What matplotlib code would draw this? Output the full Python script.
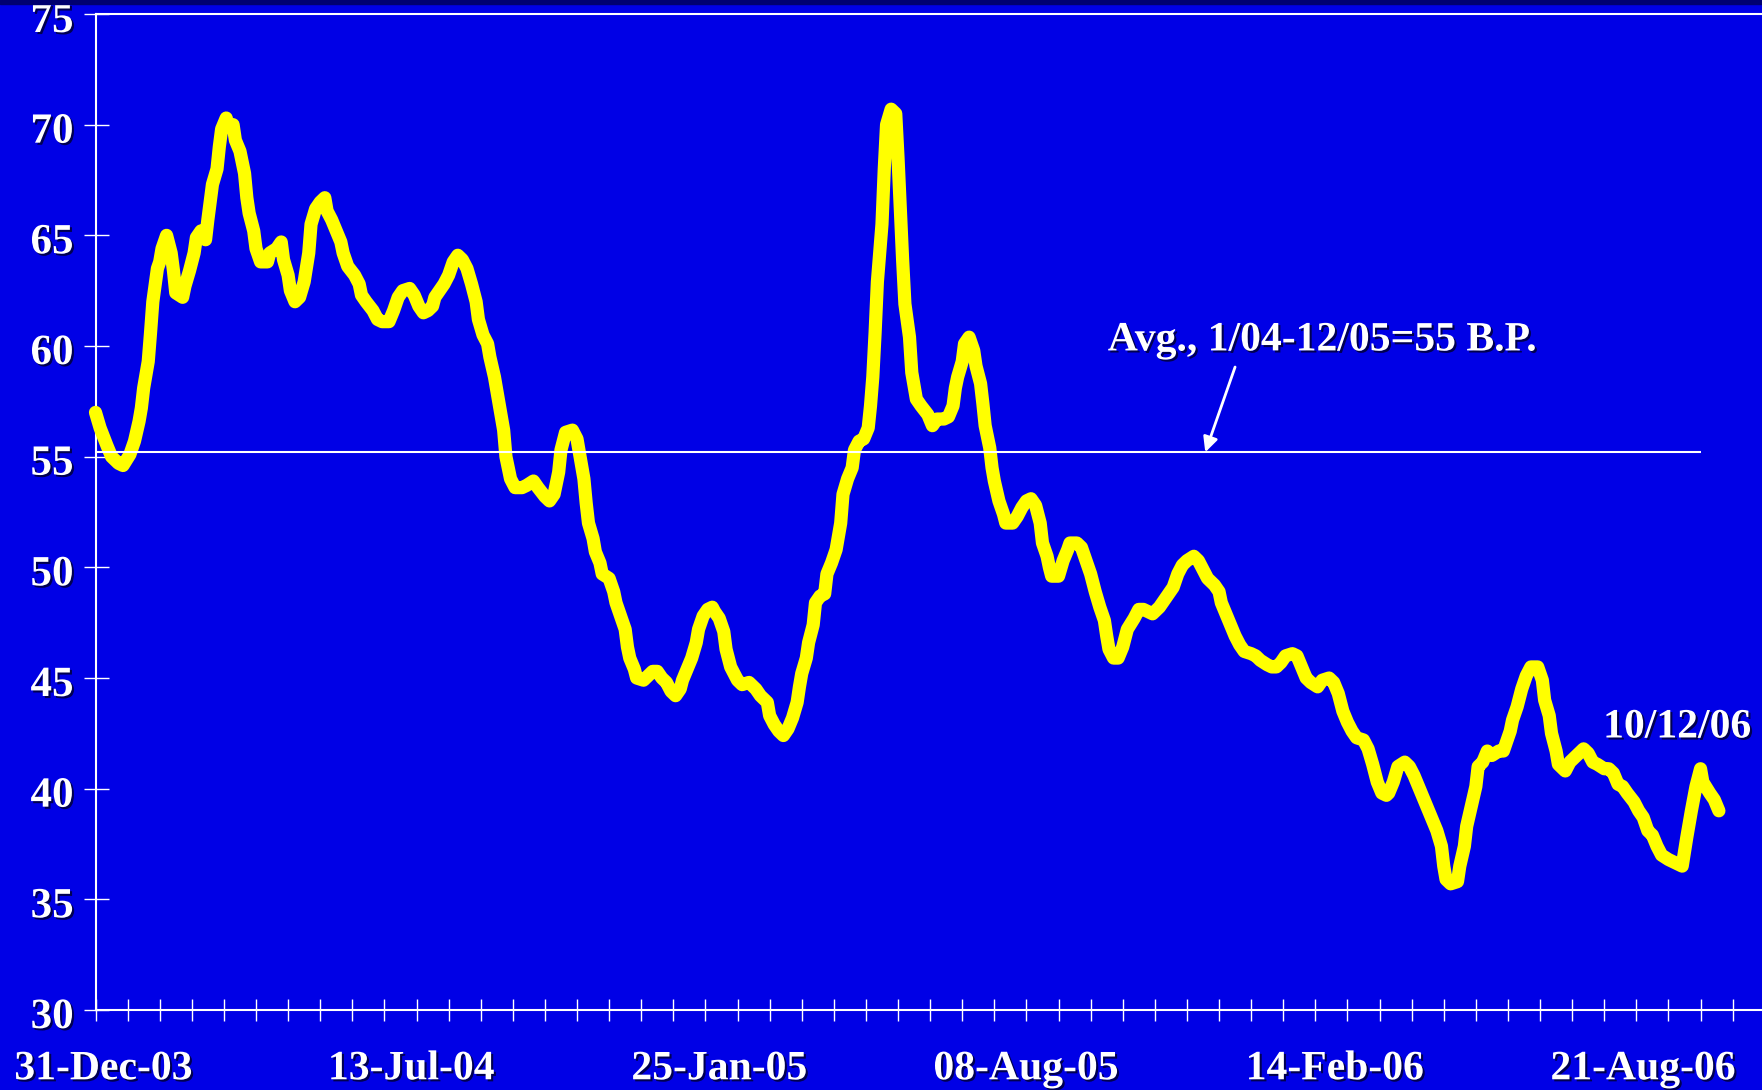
import numpy as np
import matplotlib
matplotlib.use("Agg")
import matplotlib.pyplot as plt
import matplotlib.patheffects as pe
from matplotlib.transforms import ScaledTranslation
from matplotlib.patches import Rectangle

# spread series, x = trading-day row since 31-Dec-03, y = basis points
rows = [0, 2, 5, 7, 10, 12, 15, 17, 19, 20, 21, 23, 24, 25, 27, 28, 29, 31, 33, 34,
        35, 38, 39, 41, 43, 44, 46, 48, 49, 50, 51, 53, 54, 55, 57, 58, 60, 61, 63, 65,
        66, 67, 69, 70, 72, 75, 76, 79, 81, 82, 84, 85, 87, 89, 91, 93, 94, 96, 98, 100,
        101, 103, 105, 107, 108, 110, 113, 115, 116, 118, 121, 123, 125, 128, 130, 132, 134, 137, 139, 141,
        143, 145, 147, 148, 150, 152, 154, 156, 158, 160, 162, 164, 166, 167, 169, 171, 172, 174, 176, 178,
        179, 181, 183, 186, 188, 191, 193, 196, 198, 200, 202, 203, 205, 208, 210, 211, 213, 214, 215, 217,
        218, 220, 221, 224, 226, 227, 229, 231, 232, 233, 235, 236, 239, 241, 243, 245, 247, 249, 251, 253,
        255, 256, 258, 260, 262, 263, 265, 267, 269, 270, 272, 274, 275, 277, 279, 280, 282, 285, 288, 290,
        293, 294, 296, 298, 300, 302, 304, 306, 307, 308, 310, 311, 313, 314, 316, 318, 319, 321, 323, 325,
        326, 328, 330, 331, 333, 335, 337, 338, 339, 340, 341, 343, 344, 345, 347, 349, 350, 351, 352, 353,
        355, 356, 358, 360, 363, 365, 367, 370, 372, 374, 375, 376, 378, 379, 381, 383, 384, 386, 387, 388,
        390, 391, 392, 394, 396, 397, 400, 402, 404, 406, 408, 410, 412, 413, 415, 416, 417, 420, 422, 424,
        425, 428, 430, 432, 434, 436, 438, 440, 441, 442, 444, 446, 448, 450, 453, 455, 457, 459, 461, 464,
        466, 468, 470, 472, 474, 476, 479, 481, 483, 485, 488, 490, 491, 493, 495, 497, 499, 501, 504, 506,
        508, 511, 513, 515, 517, 519, 522, 524, 526, 528, 530, 533, 535, 538, 540, 542, 544, 546, 548, 550,
        553, 555, 557, 559, 561, 563, 564, 566, 568, 571, 573, 575, 577, 579, 581, 583, 585, 587, 588, 589,
        591, 594, 595, 597, 598, 600, 602, 603, 605, 607, 609, 612, 614, 617, 618, 620, 622, 624, 626, 629,
        631, 632, 634, 635, 637, 638, 641, 643, 645, 647, 649, 651, 653, 655, 658, 660, 662, 664, 666, 668,
        671, 673, 675, 677, 679, 681, 683, 686, 688, 690, 692, 694, 696, 698, 700, 701, 704, 706, 708]
spread = [57.0, 56.3, 55.5, 55.0, 54.7, 54.6, 55.1, 55.7, 56.6, 57.2, 58.1, 59.3, 60.6, 62.0, 63.5, 63.8, 64.4, 65.0, 64.2, 63.4,
          62.4, 62.2, 62.7, 63.4, 64.2, 64.9, 65.2, 64.8, 65.7, 66.5, 67.3, 68.0, 69.0, 69.8, 70.3, 69.9, 70.0, 69.3, 68.8, 67.8,
          66.7, 66.0, 65.2, 64.4, 63.8, 63.8, 64.2, 64.4, 64.7, 63.9, 63.2, 62.5, 62.0, 62.2, 62.9, 64.2, 65.5, 66.2, 66.5, 66.7,
          66.1, 65.7, 65.2, 64.7, 64.2, 63.6, 63.2, 62.8, 62.3, 62.0, 61.6, 61.2, 61.1, 61.1, 61.6, 62.2, 62.5, 62.6, 62.3, 61.8,
          61.5, 61.6, 61.8, 62.2, 62.5, 62.8, 63.2, 63.8, 64.1, 63.9, 63.5, 62.8, 62.0, 61.2, 60.5, 60.1, 59.5, 58.6, 57.4, 56.2,
          55.0, 54.0, 53.6, 53.6, 53.7, 53.9, 53.6, 53.2, 53.0, 53.3, 54.3, 55.3, 56.1, 56.2, 55.8, 55.2, 54.0, 52.9, 52.0, 51.3,
          50.7, 50.2, 49.7, 49.5, 48.9, 48.4, 47.8, 47.2, 46.4, 45.9, 45.4, 45.0, 44.9, 45.1, 45.3, 45.3, 45.0, 44.8, 44.4, 44.2,
          44.5, 44.9, 45.4, 45.9, 46.6, 47.2, 47.8, 48.1, 48.2, 48.0, 47.7, 47.1, 46.3, 45.5, 45.1, 44.9, 44.7, 44.8, 44.5, 44.2,
          43.9, 43.3, 42.9, 42.6, 42.4, 42.7, 43.2, 43.9, 44.6, 45.2, 45.9, 46.6, 47.4, 48.4, 48.7, 48.8, 49.7, 50.2, 50.8, 52.0,
          53.3, 54.0, 54.5, 55.3, 55.7, 55.8, 56.3, 57.3, 58.6, 60.6, 62.9, 65.5, 68.0, 70.0, 70.7, 70.5, 68.5, 66.2, 63.9, 61.9,
          60.4, 58.8, 57.6, 57.3, 56.9, 56.4, 56.7, 56.7, 56.8, 57.3, 58.1, 58.6, 59.3, 60.1, 60.4, 59.8, 59.1, 58.3, 57.4, 56.4,
          55.4, 54.5, 53.9, 53.0, 52.4, 52.0, 52.0, 52.3, 52.7, 53.0, 53.1, 52.8, 52.0, 51.1, 50.5, 50.0, 49.6, 49.6, 50.3, 50.8,
          51.1, 51.1, 50.9, 50.3, 49.7, 48.9, 48.2, 47.6, 46.9, 46.3, 45.9, 45.9, 46.4, 47.2, 47.7, 48.1, 48.1, 48.0, 47.9, 48.2,
          48.5, 48.8, 49.1, 49.7, 50.1, 50.3, 50.5, 50.3, 49.9, 49.5, 49.2, 48.9, 48.4, 47.9, 47.4, 46.9, 46.5, 46.2, 46.1, 46.0,
          45.8, 45.6, 45.5, 45.5, 45.7, 46.0, 46.1, 46.0, 45.5, 45.0, 44.8, 44.6, 44.9, 45.0, 44.8, 44.3, 43.5, 43.0, 42.6, 42.3,
          42.2, 41.8, 41.1, 40.3, 39.8, 39.7, 39.8, 40.3, 41.0, 41.2, 41.0, 40.6, 40.1, 39.6, 39.1, 38.6, 38.1, 37.4, 36.5, 35.9,
          35.7, 35.8, 36.5, 37.4, 38.3, 39.2, 40.1, 41.0, 41.2, 41.7, 41.5, 41.7, 41.7, 42.6, 43.1, 43.7, 44.5, 45.1, 45.5, 45.5,
          44.9, 44.0, 43.3, 42.5, 41.7, 41.1, 40.8, 41.2, 41.4, 41.6, 41.8, 41.6, 41.2, 41.1, 40.9, 40.9, 40.7, 40.2, 40.1, 39.8,
          39.4, 39.0, 38.7, 38.1, 37.9, 37.4, 37.0, 36.8, 36.7, 36.6, 36.5, 37.8, 39.0, 40.1, 40.9, 40.3, 39.8, 39.5, 39.0]

date_labels = ["31-Dec-03", "13-Jul-04", "25-Jan-05", "08-Aug-05", "14-Feb-06", "21-Aug-06"]
label_rows = [3.4, 137.7, 272.0, 405.8, 540.5, 674.9]
tick_every = 14

avg_value = 55.2
avg_span = (0, 700)
last_date = "10/12/06"

BG = "#0000e6"
FONT = "Liberation Serif"
shadow = [pe.withSimplePatchShadow(offset=(1.5, -1.5), shadow_rgbFace="#000040", alpha=0.9)]

fig = plt.figure(figsize=(17.62, 10.90), dpi=100)
fig.patch.set_facecolor(BG)
fig.patches.append(Rectangle((0, 1 - 4 / 1090), 1, 4 / 1090, transform=fig.transFigure,
                             color="#000070", zorder=0))

W, H = 1762, 1090
ax = fig.add_axes([95.5 / W, 1 - 1010 / H, 1 - 95.5 / W, (1010 - 14) / H])
ax.set_facecolor(BG)
ax.set_xlim(0, 726.8)
ax.set_ylim(30, 75)

for side in ["left", "bottom", "top"]:
    ax.spines[side].set_color("white")
    ax.spines[side].set_linewidth(1.5)
ax.spines["right"].set_visible(False)

# y axis: ticks crossing the spine, labels placed by hand so they sit a bit low
yticks = np.arange(30, 76, 5)
ax.set_yticks(yticks)
ax.tick_params(axis="y", direction="inout", length=18, width=1, color="white", labelleft=False)
ylab_tr = ax.get_yaxis_transform() + ScaledTranslation(-0.22, -0.08, fig.dpi_scale_trans)
for v in yticks:
    ax.text(0, v, "%d" % v, transform=ylab_tr, ha="right", va="center", color="white",
            fontsize=31, fontweight="bold", family=FONT, path_effects=shadow)

# x axis: small tick marks every few rows, date labels on invisible major ticks
ax.set_xticks(np.arange(0, 726.8, tick_every), minor=True)
ax.set_xticks(label_rows, date_labels)
ax.tick_params(axis="x", which="minor", direction="inout", length=16, width=1, color="white")
ax.tick_params(axis="x", which="major", length=0, pad=29, labelcolor="white", labelsize=30)
for lab in ax.get_xticklabels():
    lab.set_fontweight("bold")
    lab.set_family(FONT)
    lab.set_path_effects(shadow)

ax.plot(rows, spread, color="#ffff00", lw=9.5, solid_joinstyle="round",
        solid_capstyle="round", clip_on=False, zorder=3)

ax.hlines(avg_value, avg_span[0], avg_span[1], color="white", lw=1.5, zorder=4)
ax.text(535, 59.8, "Avg., 1/04-12/05=%d B.P." % round(avg_value), ha="center", va="baseline",
        color="white", fontsize=30, fontweight="bold", family=FONT, path_effects=shadow)
ax.annotate("", xy=(484, avg_value), xytext=(497, 59.05),
            arrowprops=dict(arrowstyle="-|>,head_length=0.45,head_width=0.22", color="white",
                            lw=2, mutation_scale=20, shrinkA=0, shrinkB=0), zorder=5)

ax.annotate(last_date, xy=(rows[-1], spread[-1]), xytext=(-30, 60), textcoords="offset points",
            ha="center", va="center", color="white", fontsize=30, fontweight="bold",
            family=FONT, path_effects=shadow)

fig.savefig("out.png", dpi=100, facecolor=BG)
